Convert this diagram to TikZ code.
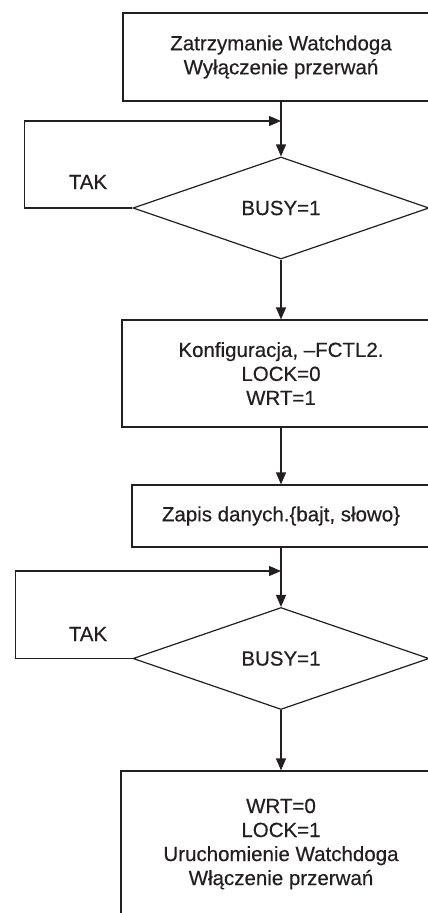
\documentclass[tikz,border=0pt]{standalone}
\usepackage{fontspec}
\setmainfont{Liberation Sans}[FakeBold=0.4]
\usepackage{xcolor}
\usepackage{tikz}
\usetikzlibrary{shapes.geometric,arrows.meta}
\definecolor{ink}{RGB}{35,31,32}

\begin{document}
\begin{tikzpicture}[x=1pt, y=-1pt, line width=1.2pt, ink,
    font=\fontsize{20.5}{24}\selectfont,
    block/.style={draw, rectangle, align=center, inner sep=0pt},
    decision/.style={draw, diamond, inner sep=0pt, minimum width=296pt, minimum height=102pt},
    flow/.style={-{Triangle[length=12pt,width=10pt]}}]
    \useasboundingbox (0,0) rectangle (428,913);
    \clip (0,0) rectangle (428,913);

    % Blocks of the flash write sequence
    \node[block, minimum width=316pt, minimum height=88pt] (start) at (281,57)
        {Zatrzymanie Watchdoga\\Wyłączenie przerwań};
    \node[decision] (busyA) at (281,208) {BUSY=1};
    \node[block, minimum width=318pt, minimum height=107pt] (config) at (281,373.5)
        {Konfiguracja, –FCTL2.\\LOCK=0\\WRT=1};
    \node[block, minimum width=298pt, minimum height=62pt] (write) at (281,516)
        {Zapis danych.\{bajt, słowo\}};
    \node[decision] (busyB) at (281,658.5) {BUSY=1};
    \node[block, minimum width=320pt, minimum height=146pt] (finish) at (281,844)
        {WRT=0\\LOCK=1\\Uruchomienie Watchdoga\\Włączenie przerwań};

    % Wait loops
    \coordinate (joinA) at (281,121);
    \coordinate (joinB) at (281,571);
    \node (takA) at (88,182) {TAK};
    \node (takB) at (88,634) {TAK};
    \draw[flow] (busyA.west) -- ++(-108,0) |- (joinA);
    \draw[flow] (busyB.west) -- ++(-117,0) |- (joinB);

    % Main flow
    \draw[flow] (start) -- (busyA);
    \draw[flow] (busyA) -- (config);
    \draw[flow] (config) -- (write);
    \draw[flow] (write) -- (busyB);
    \draw[flow] (busyB) -- (finish);
\end{tikzpicture}
\end{document}
